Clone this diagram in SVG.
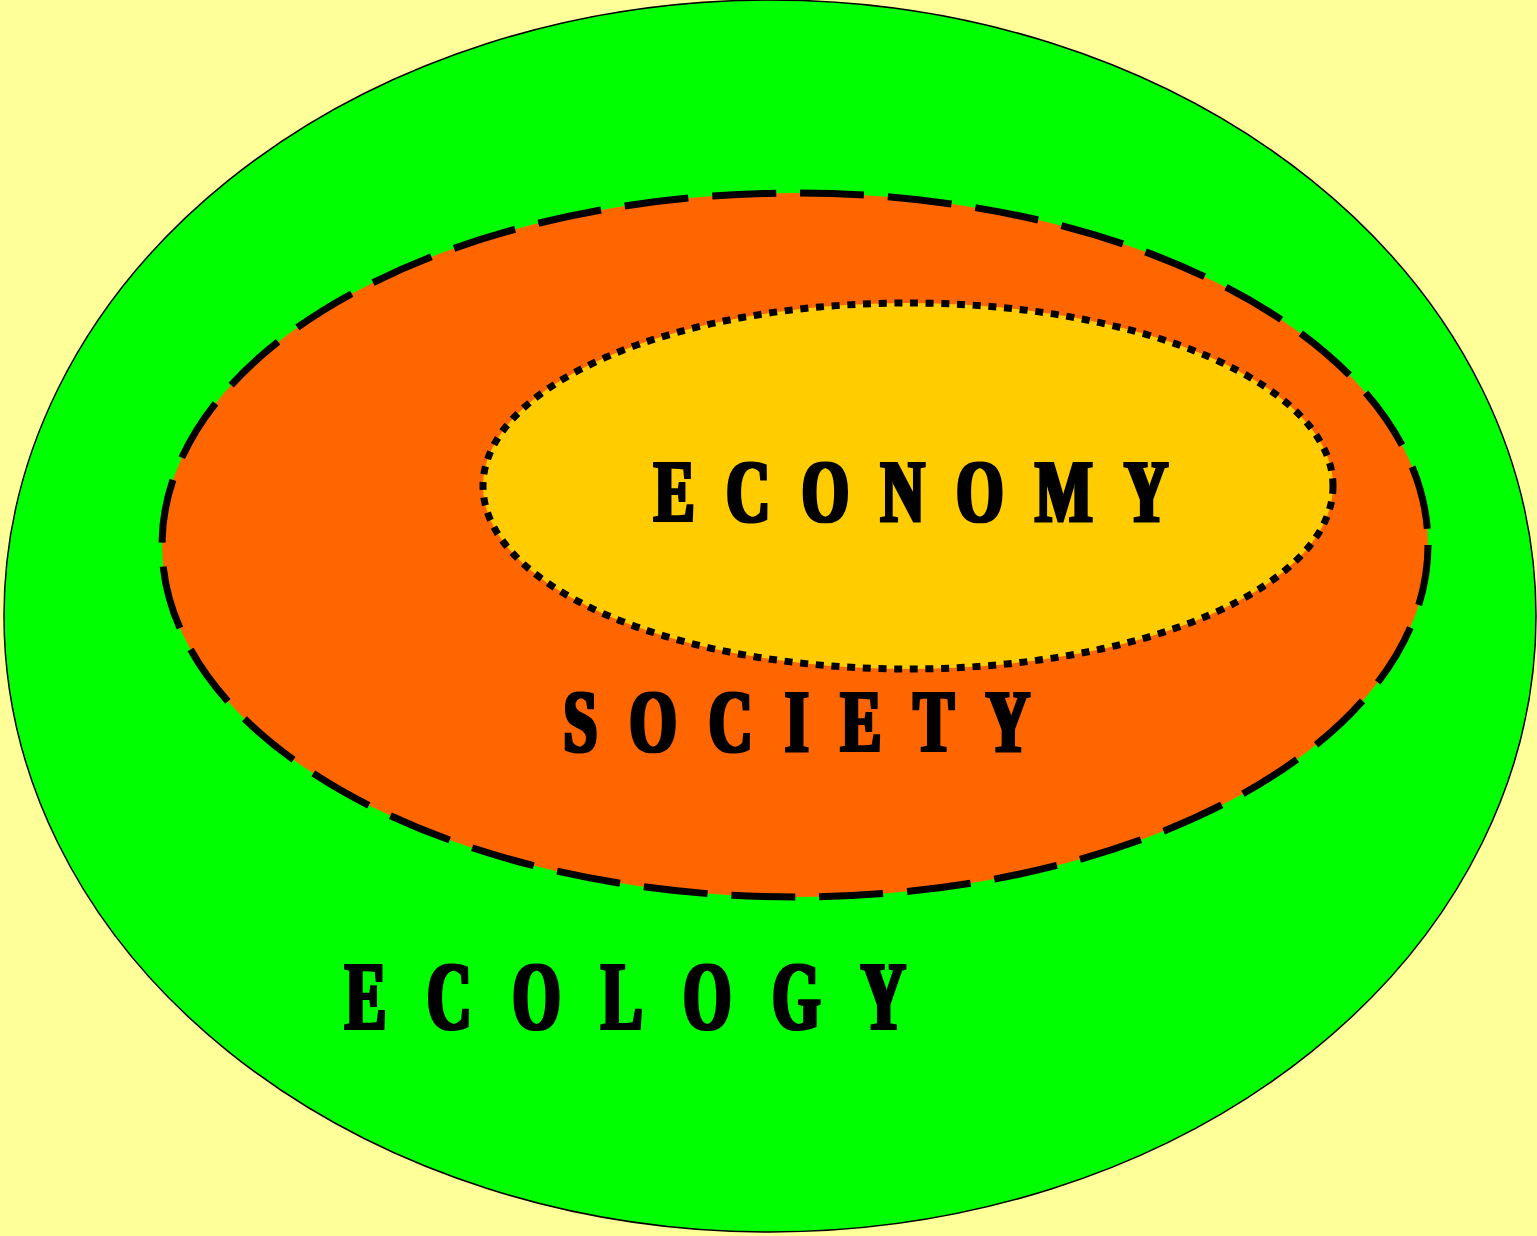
<svg xmlns="http://www.w3.org/2000/svg" width="1537" height="1236" viewBox="0 0 1537 1236">
<defs>
<filter id="fat" x="-5%" y="-10%" width="110%" height="120%">
<feMorphology operator="dilate" radius="2 0.5"/>
</filter>
</defs>
<style>
.lbl{font-family:"Liberation Serif","Times New Roman",serif;font-weight:bold;fill:#000}
</style>
<rect width="1537" height="1236" fill="#FFFF99"/>
<g id="ecology">
<ellipse cx="770" cy="616" rx="766" ry="616" fill="#00FF00" stroke="#000" stroke-width="1.5"/>
</g>
<g id="society">
<ellipse cx="795" cy="545" rx="633" ry="352" fill="#FF6600" stroke="#000" stroke-width="7" stroke-dasharray="64 24" stroke-dashoffset="3"/>
</g>
<g id="economy">
<ellipse cx="908" cy="486" rx="425" ry="183" fill="#FFCC00" stroke="#000" stroke-width="7" stroke-dasharray="8 7.7"/>
</g>
<g id="labels" filter="url(#fat)">
<g transform="translate(654,520.5) scale(0.69,1)"><text class="lbl" x="0" y="0" font-size="88" textLength="745" lengthAdjust="spacing">ECONOMY</text></g>
<g transform="translate(563.5,750.5) scale(0.69,1)"><text class="lbl" x="0" y="0" font-size="88" textLength="676" lengthAdjust="spacing">SOCIETY</text></g>
<g transform="translate(345,1028.5) scale(0.63,1)"><text class="lbl" x="0" y="0" font-size="98" textLength="890" lengthAdjust="spacing">ECOLOGY</text></g>
</g>
<g id="connectors"></g>
</svg>
